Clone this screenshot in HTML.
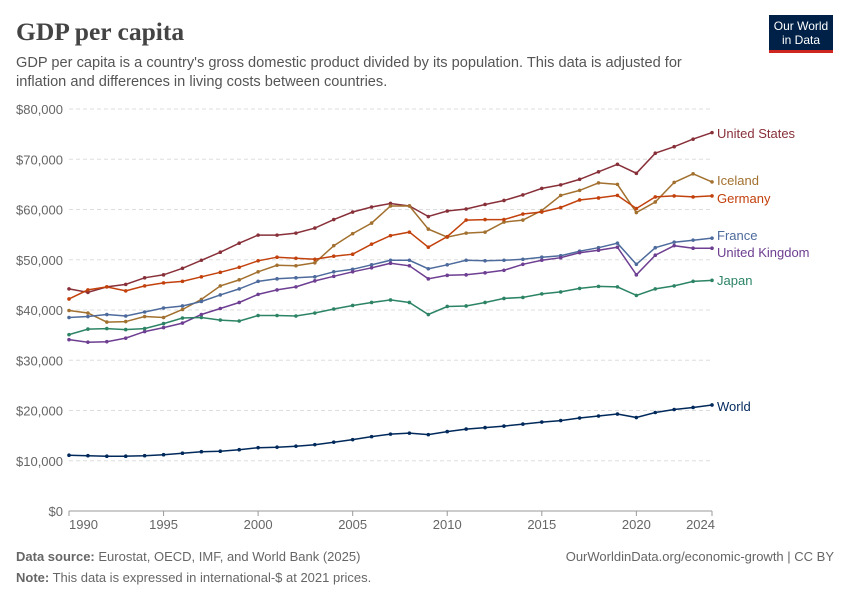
<!DOCTYPE html>
<html><head><meta charset="utf-8"><style>
body{margin:0;background:#fff;font-family:"Liberation Sans",sans-serif}
#wrap{position:relative;width:850px;height:600px;overflow:hidden}
</style></head><body>
<div id="wrap">
<svg id="svg" width="850" height="600" xmlns="http://www.w3.org/2000/svg">
<text x="16" y="40" font-family="Liberation Serif,serif" font-size="25.5" font-weight="bold" fill="#444">GDP per capita</text>
<text x="16" y="67" font-size="14.6" fill="#555">GDP per capita is a country's gross domestic product divided by its population. This data is adjusted for</text>
<text x="16" y="86" font-size="14.6" fill="#555">inflation and differences in living costs between countries.</text>
<g>
<rect x="769" y="15" width="64" height="37" fill="#002147"/>
<rect x="769" y="50" width="64" height="3" fill="#ce261e"/>
<text x="801" y="30" font-size="12" fill="#fff" text-anchor="middle">Our World</text>
<text x="801" y="44" font-size="12" fill="#fff" text-anchor="middle">in Data</text>
</g>
<g id="grid"></g><g id="series"></g>
<text x="16" y="561" font-size="13" fill="#666"><tspan font-weight="bold">Data source:</tspan> Eurostat, OECD, IMF, and World Bank (2025)</text>
<text x="16" y="582" font-size="13" fill="#666"><tspan font-weight="bold">Note:</tspan> This data is expressed in international-$ at 2021 prices.</text>
<text x="834" y="561" font-size="13" fill="#666" text-anchor="end">OurWorldinData.org/economic-growth | CC BY</text>
</svg></div>
<script>
const years=[];for(let y=1990;y<=2024;y++)years.push(y);
const yTicks=[0,10000,20000,30000,40000,50000,60000,70000,80000];
const xTicks=[1990,1995,2000,2005,2010,2015,2020];
const names=["United States","Iceland","Germany","France","United Kingdom","Japan","World"];
const us=[44.2,43.5,44.6,45.1,46.4,47.0,48.3,49.9,51.5,53.3,54.9,54.9,55.3,56.3,58.0,59.5,60.5,61.2,60.7,58.6,59.7,60.1,61.0,61.8,62.9,64.2,64.9,66.0,67.5,69.0,67.2,71.2,72.5,74.0,75.3];
const iceland=[39.9,39.4,37.6,37.7,38.7,38.5,40.1,42.1,44.8,46.0,47.6,48.9,48.8,49.4,52.8,55.2,57.3,60.7,60.7,56.1,54.5,55.3,55.5,57.5,57.9,59.8,62.8,63.8,65.3,65.0,59.4,61.5,65.4,67.1,65.5];
const germany=[42.2,44.0,44.6,43.8,44.8,45.4,45.7,46.6,47.5,48.5,49.8,50.5,50.3,50.1,50.7,51.1,53.1,54.8,55.5,52.5,54.6,57.9,58.0,58.0,59.1,59.5,60.4,61.9,62.3,62.8,60.2,62.5,62.7,62.5,62.7];
const france=[38.5,38.7,39.1,38.8,39.6,40.4,40.8,41.7,43.0,44.2,45.7,46.2,46.4,46.6,47.6,48.1,49.0,49.9,49.9,48.2,49.0,49.9,49.8,49.9,50.1,50.5,50.8,51.7,52.4,53.3,49.1,52.4,53.5,53.9,54.3];
const uk=[34.1,33.6,33.7,34.4,35.7,36.5,37.4,39.1,40.3,41.5,43.1,44.0,44.6,45.8,46.7,47.6,48.4,49.3,48.8,46.2,46.9,47.0,47.4,47.9,49.1,49.9,50.4,51.4,51.9,52.5,47.0,50.9,52.8,52.3,52.3];
const japan=[35.1,36.2,36.3,36.1,36.3,37.3,38.4,38.5,38.0,37.8,38.9,38.9,38.8,39.4,40.2,40.9,41.5,42.0,41.5,39.1,40.7,40.8,41.5,42.3,42.5,43.2,43.6,44.3,44.7,44.6,42.9,44.2,44.8,45.7,45.9];
const world=[11.1,11.0,10.9,10.9,11.0,11.2,11.5,11.8,11.9,12.2,12.6,12.7,12.9,13.2,13.7,14.2,14.8,15.3,15.5,15.2,15.8,16.3,16.6,16.9,17.3,17.7,18.0,18.5,18.9,19.3,18.6,19.6,20.2,20.6,21.1];
const seriesData=[us,iceland,germany,france,uk,japan,world];
const colors=["#883039","#a2702f","#c2410c","#4c6a9c","#6d3e91","#2c8465","#00295b"];
const labelY=[133,180,198,235,252,280,406];
const NS="http://www.w3.org/2000/svg";
const X0=69,X1=712,Y0=511,Y1=109;
const xs=y=>X0+(y-1990)/(2024-1990)*(X1-X0);
const ys=v=>Y0-v/80000*(Y0-Y1);
function mk(t,a){const e=document.createElementNS(NS,t);for(const k in a)e.setAttribute(k,a[k]);return e;}
const grid=document.getElementById('grid'),ser=document.getElementById('series');
yTicks.forEach(v=>{
 const l=mk('line',{x1:X0,x2:X1,y1:ys(v),y2:ys(v),stroke:v?'#ddd':'#999','stroke-dasharray':v?'4,3':'none'});
 
 
 grid.appendChild(l);
 const t=mk('text',{x:63,y:ys(v)+5,'font-size':13,fill:'#666','text-anchor':'end'});
 t.textContent='$'+v.toLocaleString('en-US');
 
 
 grid.appendChild(t);
});
xTicks.concat([2024]).forEach((y,i)=>{
 const tk=mk('line',{x1:xs(y),x2:xs(y),y1:Y0,y2:Y0+5,stroke:'#999'});
 
 
 grid.appendChild(tk);
 const t=mk('text',{x:y===1990?X0:xs(y),y:529,'font-size':13,fill:'#666','text-anchor':y===1990?'start':(y===2024?'end':'middle')});
 t.textContent=y;
 if(y===2024)t.setAttribute('x',xs(y)+3);
 
 
 grid.appendChild(t);
});
seriesData.forEach((d,i)=>{
 const pts=d.map((v,j)=>xs(years[j]).toFixed(1)+','+ys(v*1000).toFixed(1)).join(' ');
 const p=mk('polyline',{points:pts,fill:'none',stroke:colors[i],'stroke-width':1.5});
 
 
 ser.appendChild(p);
 d.forEach((v,j)=>{
  const c=mk('circle',{cx:xs(years[j]),cy:ys(v*1000),r:1.8,fill:colors[i]});
  
  
  ser.appendChild(c);
 });
 const t=mk('text',{x:717,y:labelY[i]+5,'font-size':13,fill:colors[i]});
 t.textContent=names[i];
 
 
 ser.appendChild(t);
});
</script>
</body></html>
